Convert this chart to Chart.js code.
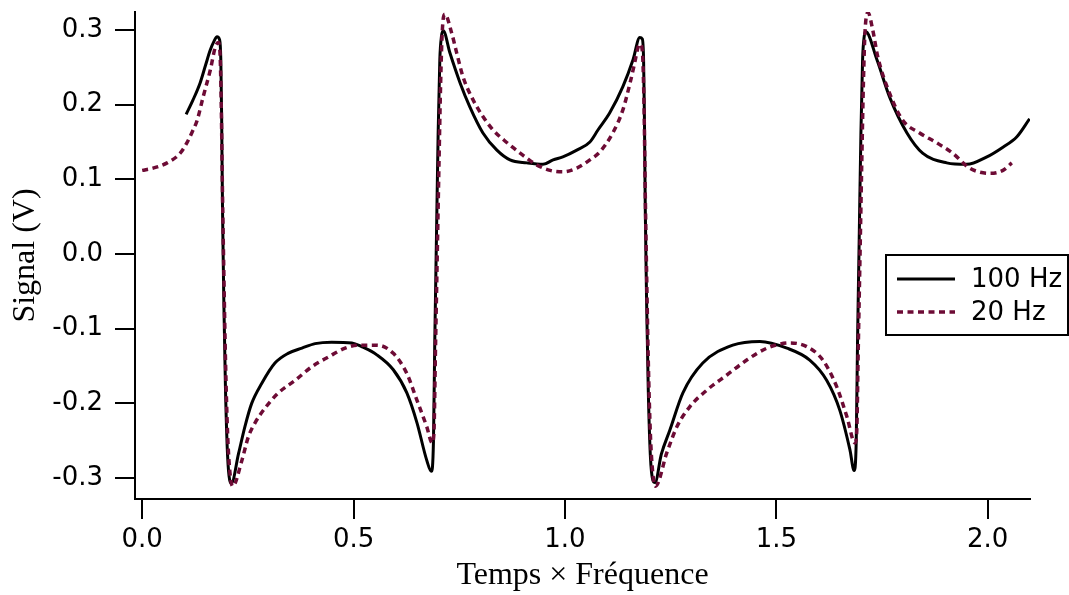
<!DOCTYPE html>
<html>
<head>
<meta charset="utf-8">
<script src="https://cdn.jsdelivr.net/npm/chart.js@4.4.1/dist/chart.umd.min.js"></script>
<style>
  html, body { margin: 0; padding: 0; background: #fff; }
  #wrap { width: 1069px; height: 595px; }
</style>
</head>
<body>
<div id="wrap"><canvas id="signalChart" width="1069" height="595"></canvas></div>
<script>
// 100 Hz trace
const t100 = [
  0.104, 0.120, 0.137, 0.150, 0.161, 0.170, 0.177, 0.183, 0.186, 0.188,
  0.190, 0.193, 0.197, 0.202, 0.207, 0.211, 0.228, 0.243, 0.259, 0.283,
  0.314, 0.345, 0.378, 0.409, 0.448, 0.496, 0.519, 0.555, 0.594, 0.626,
  0.650, 0.673, 0.684, 0.689, 0.692, 0.696, 0.700, 0.704, 0.708, 0.712,
  0.728, 0.752, 0.775, 0.806, 0.839, 0.870, 0.910, 0.948, 0.972, 0.995,
  1.028, 1.059, 1.078, 1.106, 1.137, 1.161, 1.177, 1.183, 1.186, 1.188,
  1.190, 1.193, 1.197, 1.202, 1.208, 1.213, 1.228, 1.248, 1.279, 1.326,
  1.397, 1.461, 1.525, 1.579, 1.619, 1.650, 1.674, 1.684, 1.689, 1.692,
  1.696, 1.700, 1.704, 1.708, 1.711, 1.738, 1.768, 1.809, 1.846, 1.903,
  1.950, 1.998, 2.036, 2.069, 2.099
];
const v100 = [
  0.187, 0.206, 0.229, 0.253, 0.273, 0.285, 0.291, 0.287, 0.260, 0.180,
  0.060, -0.060, -0.180, -0.270, -0.303, -0.307, -0.267, -0.231, -0.200, -0.173,
  -0.146, -0.133, -0.126, -0.120, -0.118, -0.119, -0.124, -0.135, -0.155, -0.186,
  -0.226, -0.276, -0.291, -0.250, -0.120, 0.020, 0.160, 0.260, 0.292, 0.299,
  0.269, 0.229, 0.197, 0.162, 0.139, 0.126, 0.122, 0.120, 0.126, 0.130,
  0.139, 0.150, 0.166, 0.189, 0.224, 0.260, 0.290, 0.288, 0.260, 0.180,
  0.060, -0.060, -0.180, -0.270, -0.303, -0.306, -0.268, -0.236, -0.186, -0.146,
  -0.122, -0.117, -0.126, -0.142, -0.169, -0.209, -0.262, -0.290, -0.250, -0.120,
  0.020, 0.160, 0.260, 0.292, 0.298, 0.260, 0.210, 0.162, 0.135, 0.122,
  0.120, 0.130, 0.143, 0.157, 0.181
];

// 20 Hz trace
const t20 = [
  0.000, 0.026, 0.059, 0.090, 0.106, 0.118, 0.130, 0.144, 0.161, 0.173,
  0.180, 0.184, 0.187, 0.190, 0.193, 0.197, 0.202, 0.208, 0.214, 0.236,
  0.251, 0.267, 0.291, 0.322, 0.362, 0.401, 0.440, 0.480, 0.511, 0.555,
  0.594, 0.626, 0.650, 0.673, 0.686, 0.690, 0.694, 0.698, 0.702, 0.706,
  0.710, 0.716, 0.732, 0.744, 0.759, 0.783, 0.806, 0.830, 0.863, 0.894,
  0.934, 0.965, 0.995, 1.028, 1.059, 1.083, 1.113, 1.137, 1.154, 1.165,
  1.173, 1.178, 1.183, 1.187, 1.190, 1.193, 1.197, 1.202, 1.208, 1.214,
  1.241, 1.265, 1.296, 1.336, 1.383, 1.430, 1.478, 1.532, 1.572, 1.610,
  1.643, 1.667, 1.686, 1.690, 1.694, 1.698, 1.702, 1.706, 1.710, 1.717,
  1.728, 1.740, 1.768, 1.799, 1.839, 1.879, 1.917, 1.957, 2.005, 2.036,
  2.057
];
const v20 = [
  0.112, 0.115, 0.122, 0.135, 0.149, 0.163, 0.179, 0.210, 0.246, 0.277,
  0.283, 0.270, 0.200, 0.080, -0.020, -0.140, -0.240, -0.295, -0.311, -0.276,
  -0.245, -0.226, -0.206, -0.186, -0.169, -0.151, -0.138, -0.126, -0.122, -0.122,
  -0.133, -0.160, -0.196, -0.231, -0.253, -0.240, -0.120, 0.000, 0.120, 0.230,
  0.300, 0.321, 0.296, 0.269, 0.237, 0.206, 0.184, 0.166, 0.149, 0.135,
  0.119, 0.112, 0.110, 0.115, 0.126, 0.137, 0.162, 0.193, 0.229, 0.256,
  0.277, 0.281, 0.272, 0.200, 0.080, -0.020, -0.140, -0.240, -0.295, -0.311,
  -0.266, -0.231, -0.204, -0.182, -0.162, -0.142, -0.126, -0.119, -0.124, -0.142,
  -0.178, -0.218, -0.253, -0.240, -0.120, 0.000, 0.120, 0.230, 0.300, 0.323,
  0.300, 0.264, 0.215, 0.179, 0.162, 0.149, 0.135, 0.115, 0.108, 0.112,
  0.122
];

const xTicks = [0, 0.5, 1.0, 1.5, 2.0];
const yTicks = [-0.3, -0.2, -0.1, 0.0, 0.1, 0.2, 0.3];

const seriesNames = ['100 Hz', '20 Hz'];
const black = '#000000';
const maroon = '#6d0b35';

const tickFont = { family: 'DejaVu Sans', size: 26 };
const titleFont = { family: 'Liberation Serif', size: 32, lineHeight: 1.2 };

function toPoints(xs, ys) {
  return xs.map((x, i) => ({ x: x, y: ys[i] }));
}

// legend box drawn inside the plot, right side
const boxLegend = {
  id: 'boxLegend',
  afterDatasetsDraw(chart) {
    const ctx = chart.ctx;
    ctx.save();
    ctx.strokeStyle = black;
    ctx.lineWidth = 2;
    ctx.strokeRect(886, 255, 182, 80);

    const rows = [
      { y: 279, color: black, dash: [], width: 3 },
      { y: 312, color: maroon, dash: [6, 4.5], width: 3.5 }
    ];
    rows.forEach((r, i) => {
      ctx.beginPath();
      ctx.setLineDash(r.dash);
      ctx.strokeStyle = r.color;
      ctx.lineWidth = r.width;
      ctx.moveTo(897, r.y);
      ctx.lineTo(955, r.y);
      ctx.stroke();
      ctx.setLineDash([]);
      ctx.fillStyle = black;
      ctx.font = tickFont.size + 'px "' + tickFont.family + '"';
      ctx.textBaseline = 'middle';
      ctx.textAlign = 'left';
      ctx.fillText(seriesNames[i], 971, r.y + 1);
    });
    ctx.restore();
  }
};

const ctx = document.getElementById('signalChart').getContext('2d');
new Chart(ctx, {
  type: 'line',
  data: {
    datasets: [
      {
        label: seriesNames[0],
        data: toPoints(t100, v100),
        borderColor: black,
        borderWidth: 3,
        pointRadius: 0,
        cubicInterpolationMode: 'monotone',
        fill: false,
        order: 1
      },
      {
        label: seriesNames[1],
        data: toPoints(t20, v20),
        borderColor: maroon,
        borderWidth: 3.5,
        borderDash: [6, 4.5],
        pointRadius: 0,
        cubicInterpolationMode: 'monotone',
        fill: false,
        order: 0
      }
    ]
  },
  options: {
    responsive: false,
    animation: false,
    layout: { padding: { top: 12, right: 39, left: 0, bottom: 0 } },
    plugins: {
      legend: { display: false },
      tooltip: { enabled: false }
    },
    scales: {
      x: {
        type: 'linear',
        min: -0.017,
        max: 2.1,
        afterBuildTicks: s => { s.ticks = xTicks.map(v => ({ value: v })); },
        afterFit: s => { s.height = 96; s.paddingLeft = 0; s.paddingRight = 0; },
        border: { display: true, color: black, width: 2 },
        grid: { drawOnChartArea: false, drawTicks: true, tickLength: 20, color: black, lineWidth: 2 },
        ticks: { color: black, font: tickFont, padding: 6, maxRotation: 0, callback: v => v.toFixed(1) },
        title: { display: true, text: 'Temps × Fréquence', color: black, font: titleFont, padding: { top: 0, bottom: 0 } }
      },
      y: {
        type: 'linear',
        min: -0.328,
        max: 0.324,
        afterBuildTicks: s => { s.ticks = yTicks.map(v => ({ value: v })); },
        afterFit: s => { s.width = 135; s.paddingTop = 0; s.paddingBottom = 0; },
        border: { display: true, color: black, width: 2 },
        grid: { drawOnChartArea: false, drawTicks: true, tickLength: 20, color: black, lineWidth: 2 },
        ticks: { color: black, font: tickFont, padding: 12, callback: v => v.toFixed(1) },
        title: { display: true, text: 'Signal (V)', color: black, font: titleFont, padding: { top: 6, bottom: 0 } }
      }
    }
  },
  plugins: [boxLegend]
});
</script>
</body>
</html>
